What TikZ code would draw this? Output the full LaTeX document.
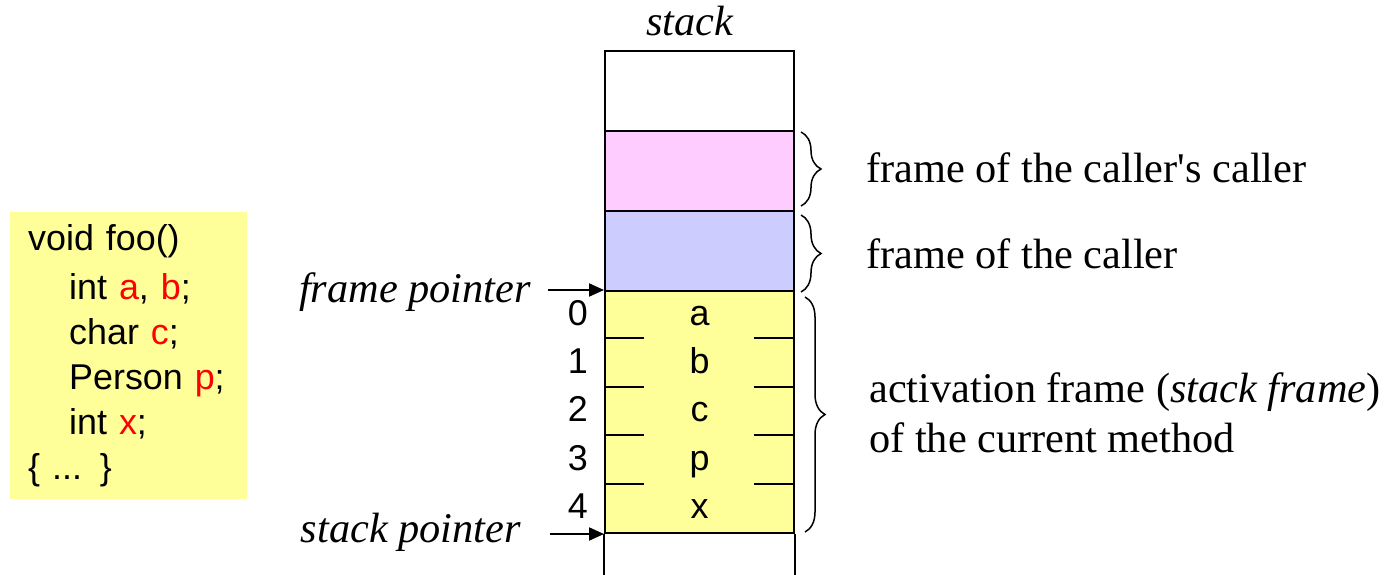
\documentclass[tikz,border=0pt]{standalone}
\usepackage{fontspec}
\setmainfont{Liberation Serif}
\setsansfont{Liberation Sans}
\usepackage{xcolor}
\usepackage{tikz}
\usetikzlibrary{arrows.meta,positioning,decorations.pathreplacing}
\definecolor{memyellow}{HTML}{FFFF99}
\definecolor{mempink}{HTML}{FFCCFF}
\definecolor{memblue}{HTML}{CCCCFF}
\definecolor{varred}{HTML}{FF0000}
\newcommand{\redvar}[1]{\textcolor{varred}{#1}}

\begin{document}
\begin{tikzpicture}[x=1bp, y=-1bp,
  font=\fontsize{42.5}{50}\selectfont, >={Triangle[length=15bp,width=13bp]},
  cell/.style={draw, line width=2bp, minimum width=189bp, inner sep=0pt, anchor=north},
  var/.style={font=\sffamily\fontsize{36}{40}\selectfont, inner sep=0pt, anchor=base},
  idx/.style={var, anchor=base east},
  tick/.style={line width=2bp},
  ptr/.style={->, line width=2bp},
  lbl/.style={font=\itshape\fontsize{42.5}{48}\selectfont, inner sep=0pt},
  note/.style={inner sep=0pt, anchor=base west, align=left},
  brc/.style={decorate, decoration={brace, amplitude=20bp}, line width=1.5bp},
  code/.style={fill=memyellow, anchor=north west, align=left, inner xsep=18bp, inner ysep=0pt,
    minimum width=237bp, minimum height=287bp, text width=201bp,
    font=\sffamily\fontsize{36}{45}\selectfont},
]
\useasboundingbox (0,0) rectangle (1390,575);
% method source
\node[code] (src) at (10,212) {\vspace*{4bp}void foo()\\
  \hspace*{41bp}int \redvar{a}, \redvar{b};\\
  \hspace*{41bp}char \redvar{c};\\
  \hspace*{41bp}Person \redvar{p};\\
  \hspace*{41bp}int \redvar{x};\\
  \{ ... \}};
% stack cells
\node[lbl, anchor=base] (stk) at (690,36) {stack};
\node[cell, minimum height=80bp] (free) at (699.5,50) {};
\node[cell, minimum height=80bp, fill=mempink] (cc) at (699.5,130) {};
\node[cell, minimum height=80bp, fill=memblue] (caller) at (699.5,210) {};
\node[cell, minimum height=242bp, fill=memyellow] (act) at (699.5,290) {};
\draw[line width=2bp] (act.south west) -- ++(0,45) (act.south east) -- ++(0,45);
% slots
\foreach \v [count=\i from 0] in {a,b,c,p,x} {
  \node[var] (v\i) at (699.5,325+48.4*\i) {\v};
  \node[idx] (n\i) at (588,325+48.4*\i) {\i};
}
\foreach \k in {1,...,4}
  \draw[tick] (act.north west) ++(0,48.4*\k) -- ++(40,0)
              (act.north east) ++(0,48.4*\k) -- ++(-41,0);
% pointers
\node[lbl, anchor=base east] (fp) at (531,302) {frame pointer};
\node[lbl, anchor=base east] (sp) at (521,542) {stack pointer};
\draw[ptr, shorten <=17bp] (fp.east |- act.north west) -- (act.north west);
\draw[ptr, shorten <=29bp] (sp.east |- act.south west) -- (act.south west);
% braces
\draw[brc] ([xshift=6bp,yshift=-2bp]cc.north east) -- ([xshift=6bp,yshift=6bp]cc.south east);
\draw[brc] ([xshift=6bp,yshift=-5bp]caller.north east) -- ([xshift=6bp]caller.south east);
\draw[brc] ([xshift=10bp,yshift=-7bp]act.north east) -- ([xshift=10bp,yshift=2bp]act.south east);
\node[note] (ccnote) at (866,183) {frame of the caller\textquotesingle s caller};
\node[note] (callernote) at (866,268) {frame of the caller};
\node[note] (actnote) at (869,452) {activation frame (\textit{stack frame})\\of the current method};
\end{tikzpicture}
\end{document}
